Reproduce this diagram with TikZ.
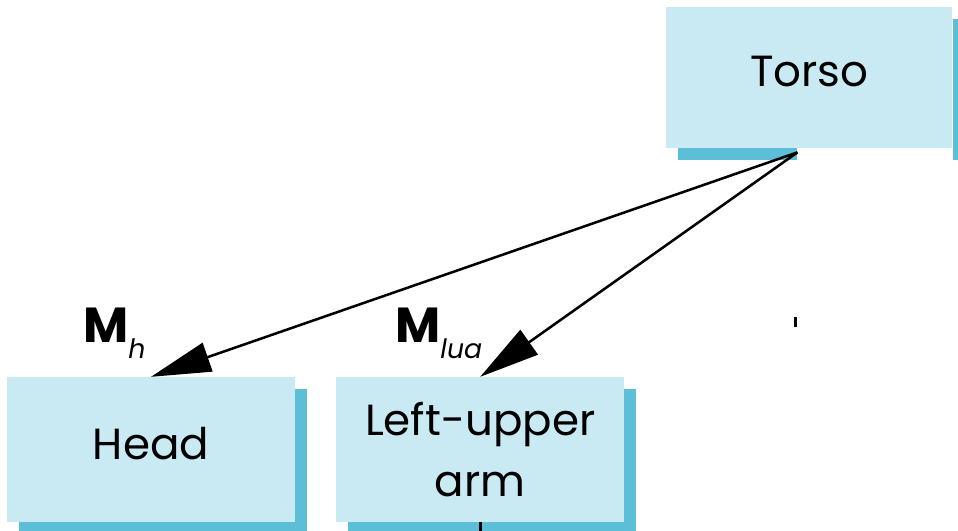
\documentclass[tikz,border=0pt]{standalone}
\usepackage{fontspec}
\setmainfont{Poppins}
\usetikzlibrary{positioning, arrows.meta, calc, shadows, backgrounds}
\definecolor{boxblue}{RGB}{201,233,243}
\definecolor{shadowblue}{RGB}{92,191,215}
\newcommand{\lowsub}[1]{\raisebox{-0.42cm}{\fontsize{19}{22}\selectfont\mdseries\itshape #1}}
\tikzset{
  tree/.style={
	node distance=8.23cm, % centre to centre distance of the part boxes
	>={Triangle[length=1.5cm, width=0.75cm]}, % big filled heads
	every node/.style={font=\fontsize{31}{43}\selectfont},
  },
  part/.style={fill=boxblue, minimum width=7.2cm, minimum height=3.62cm, align=center, inner sep=0pt}, % a body part
  oneline/.style={text depth=0.3cm}, % lift a single line a little
  partshadow/.style={drop shadow={shadow xshift=0.3cm, shadow yshift=-0.3cm, fill=shadowblue, opacity=1}},
  link/.style={->, line width=1.8pt}, % transformation from parent to child
  mlabel/.style={anchor=base west, inner sep=0pt, font=\fontsize{35}{40}\selectfont\bfseries},
}
\begin{document}
\begin{tikzpicture}[tree]
\useasboundingbox (0,0) rectangle (23.95,-13.275);
\node[part, partshadow, oneline] (head) at (3.775,-11.2375) {Head};
\node[part, partshadow, right of=head, yshift=0cm, xshift=0cm] (arm) {Left-upper\\arm};
\node[part, oneline, right of=arm, yshift=9.3cm, xshift=0cm, minimum height=3.53cm, minimum width=7.15cm] (torso) {Torso};
% torso shadow, cut where the links leave
\begin{scope}[on background layer]
\fill[shadowblue] ($(torso.south west)+(0.3,-0.3)$) rectangle ($(torso.south)+(-0.3,0)$);
\fill[shadowblue] ($(torso.north east)+(0,-0.3)$) rectangle ($(torso.south east)+(0.3,-0.3)$);
\end{scope}
\coordinate (src) at ($(torso.south)+(-0.3,-0.1)$);
\coordinate (tick) at ($(torso.south)+(-0.35,-4.22)$);
\draw[link] (src) -- (head.north);
\draw[link] (src) -- (arm.north);
\draw[line width=2pt] (arm.south) -- ++(0,-0.4);
\draw[line width=2pt] (tick) -- ++(0,-0.25);
\node[mlabel] (mh) at (2.075,-8.55) {M\lowsub{h}};
\node[mlabel] (mlua) at (9.875,-8.55) {M\lowsub{lua}};
\end{tikzpicture}
\end{document}
